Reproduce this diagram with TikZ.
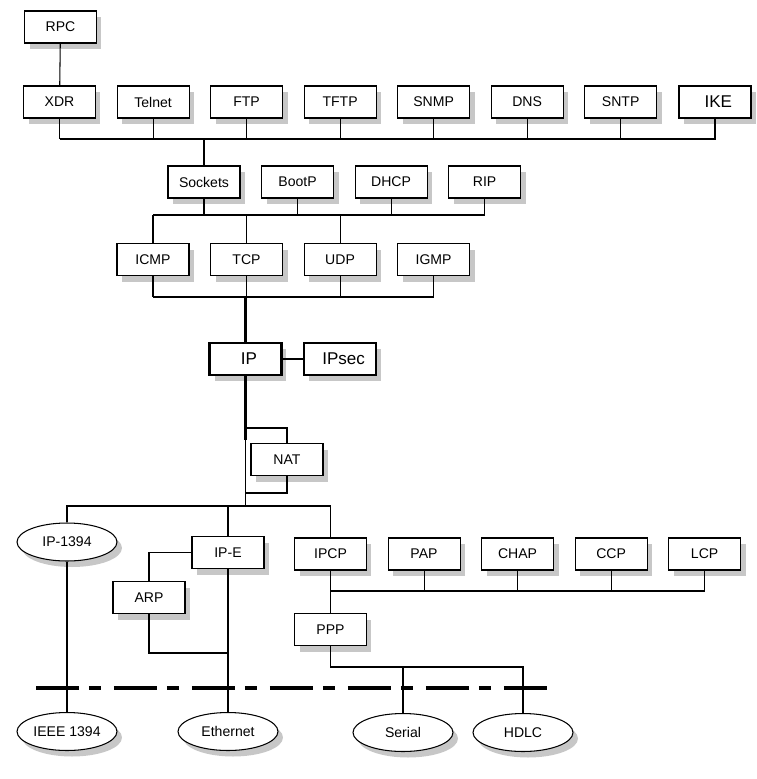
\documentclass[tikz,border=0pt]{standalone}
\usepackage{fontspec}
\setmainfont{Liberation Sans}
\usetikzlibrary{positioning,shapes.geometric,shadows}

\begin{document}
\begin{tikzpicture}[x=0.02cm, y=-0.02cm,
node distance=0.41cm,
every node/.style={font=\fontsize{8}{9.6}\selectfont},
boxshadow/.style={drop shadow={shadow xshift=0.1cm, shadow yshift=-0.12cm, fill=black!22, opacity=1}},
proto/.style={rectangle, draw, line width=0.6pt, fill=white, minimum width=1.44cm, minimum height=0.64cm, inner sep=0pt, boxshadow},
keyproto/.style={proto, line width=1.2pt, font=\fontsize{9.7}{11}\selectfont, execute at begin node=\hspace*{0.14cm}},
medium/.style={ellipse, draw, line width=0.6pt, fill=white, minimum width=2cm, minimum height=0.76cm, inner sep=0pt, boxshadow},
link/.style={line width=0.6pt},
trunk/.style={line width=1.2pt},
wire/.style={line width=2.3pt, dash pattern=on 0.86cm off 0.2cm on 0.24cm off 0.26cm}
]
\useasboundingbox (0,0) rectangle (757,779);

% Application layer
\node[proto] (rpc) at (60.5,27) {RPC};
\node[proto] (xdr) at (59.5,102) {XDR};
\node[proto, right=of xdr] (telnet) {Telnet};
\node[proto, right=of telnet] (ftp) {FTP};
\node[proto, right=of ftp] (tftp) {TFTP};
\node[proto, right=of tftp] (snmp) {SNMP};
\node[proto, right=of snmp] (dns) {DNS};
\node[proto, right=of dns] (sntp) {SNTP};
\node[keyproto, right=of sntp] (ike) {IKE};

% Sockets row
\node[proto] (sockets) at (204,182) {Sockets};
\node[proto, right=of sockets] (bootp) {BootP};
\node[proto, right=of bootp] (dhcp) {DHCP};
\node[proto, right=of dhcp] (rip) {RIP};

% Transport
\node[proto] (icmp) at (153,259.5) {ICMP};
\node[proto, right=of icmp] (tcp) {TCP};
\node[proto, right=of tcp] (udp) {UDP};
\node[proto, right=of udp] (igmp) {IGMP};

% Network
\node[keyproto] (ip) at (245.5,359) {IP};
\node[keyproto, right=of ip] (ipsec) {IPsec};
\node[proto] (nat) at (287,459.5) {NAT};

% Link adaptation
\node[medium] (ip1394) at (67,542) {IP-1394};
\node[proto] (ipe) at (228,552.5) {IP-E};
\node[proto] (arp) at (149,597.5) {ARP};
\node[proto] (ipcp) at (330.5,554) {IPCP};
\node[proto, right=of ipcp] (pap) {PAP};
\node[proto, right=of pap] (chap) {CHAP};
\node[proto, right=of chap] (ccp) {CCP};
\node[proto, right=of ccp] (lcp) {LCP};
\node[proto] (ppp) at (330.5,629.5) {PPP};

% Physical media
\node[medium] (ieee) at (67,731.5) {IEEE 1394};
\node[medium] (ethernet) at (228,731.5) {Ethernet};
\node[medium] (serial) at (403,732.5) {Serial};
\node[medium] (hdlc) at (523,732.5) {HDLC};

% Bus levels
\coordinate (bus1) at (0,139);
\coordinate (bus2) at (0,215);
\coordinate (bus3) at (0,297);
\coordinate (natin) at (0,428);
\coordinate (thin) at (0,440);
\coordinate (natout) at (0,493);
\coordinate (bus4) at (0,506);
\coordinate (bus5) at (0,591);
\coordinate (arpbus) at (0,653);
\coordinate (bus6) at (0,667);
\coordinate (wireL) at (36,688);
\coordinate (wireR) at (551,688);

% Connections
\draw[link] (rpc) -- (xdr);
\foreach \n in {xdr,telnet,ftp,tftp,snmp,dns,sntp}
  \draw[link] (\n.south) -- (\n.south |- bus1);
\draw[link] (xdr.south |- bus1) -- (sntp.south |- bus1);
\draw[trunk] (sntp.south |- bus1) -| (ike.south);
\draw[link] (sockets.north) -- (sockets.north |- bus1);

\foreach \n in {sockets,bootp,dhcp,rip}
  \draw[link] (\n.south) -- (\n.south |- bus2);
\foreach \n in {icmp,tcp,udp}
  \draw[link] (\n.north) -- (\n.north |- bus2);
\draw[link] (icmp.north |- bus2) -- (rip.south |- bus2);

\foreach \n in {icmp,tcp,udp,igmp}
  \draw[link] (\n.south) -- (\n.south |- bus3);
\draw[link] (icmp.south |- bus3) -- (igmp.south |- bus3);
\draw[trunk] (ip.north |- bus3) -- (ip.north);
\draw[trunk] (ip) -- (ipsec);
\draw[trunk] (ip.south) -- (ip.south |- thin);
\draw[link] (ip.south |- thin) -- (ip.south |- bus4);
\draw[link] (ip.south |- natin) -| (nat.north);
\draw[link] (nat.south) |- (ip.south |- natout);

\draw[link] (ip1394.north) |- (ipcp.north |- bus4) -- (ipcp.north);
\draw[link] (ipe.north) -- (ipe.north |- bus4);
\draw[link] (ipe.west) -| (arp.north);
\draw[link] (arp.south) |- (ipe.south |- arpbus);
\draw[link] (ipe.south) -- (ethernet.north);
\draw[link] (ip1394.south) -- (ieee.north);

\draw[link] (ipcp.south) -- (ppp.north);
\foreach \n in {pap,chap,ccp,lcp}
  \draw[link] (\n.south) -- (\n.south |- bus5);
\draw[link] (ipcp.south |- bus5) -- (lcp.south |- bus5);
\draw[link] (ppp.south) |- (hdlc.north |- bus6) -- (hdlc.north);
\draw[link] (serial.north) -- (serial.north |- bus6);

% Medium boundary
\draw[wire] (wireL) -- (wireR);

\end{tikzpicture}
\end{document}
